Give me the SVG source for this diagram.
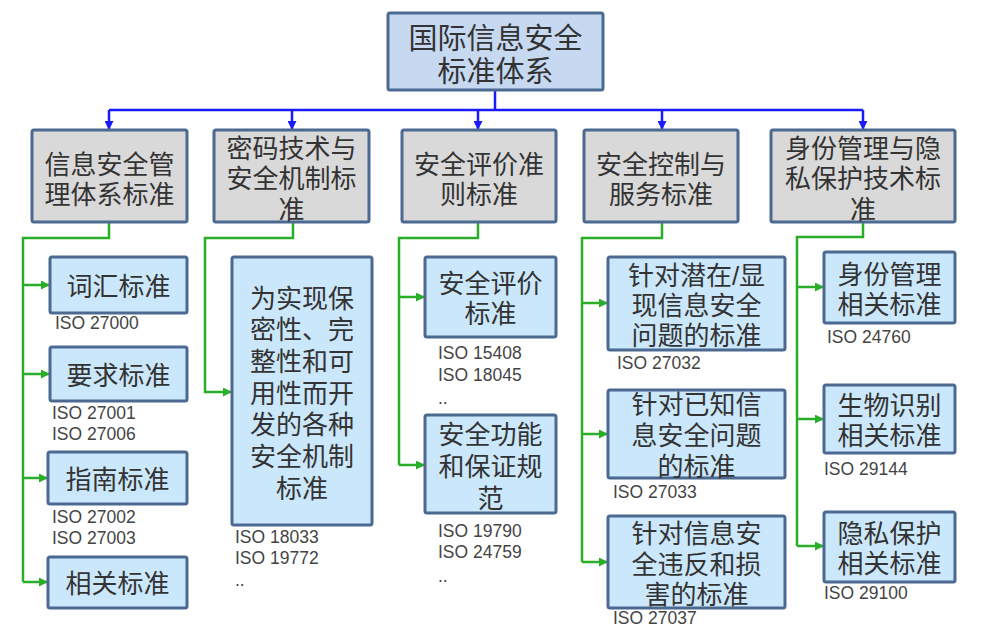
<svg xmlns="http://www.w3.org/2000/svg" width="987" height="639" viewBox="0 0 987 639">
<defs>
<style>
.box{stroke:#4b6991;stroke-width:3}
.root{fill:#c6d9f1}
.cat{fill:#d9d9d9}
.leaf{fill:#cbe7fb}
.t{font-family:"Liberation Sans","Noto Sans CJK SC",sans-serif;font-size:26px;fill:#333;text-anchor:middle;dominant-baseline:central;transform:translate(0px,2px)}
.iso{font-family:"Liberation Sans","Noto Sans",sans-serif;font-size:17.5px;fill:#444}
.blue{fill:none;stroke:#1a1aff;stroke-width:2.5}
.green{fill:none;stroke:#2aae2a;stroke-width:2.5}
</style>
<marker id="ab" markerUnits="userSpaceOnUse" viewBox="0 0 10 10" refX="10" refY="5" markerWidth="9" markerHeight="9" orient="auto"><path d="M0,0 L10,5 L0,10 z" fill="#1a1aff"/></marker>
<marker id="ag" markerUnits="userSpaceOnUse" viewBox="0 0 10 10" refX="10" refY="5" markerWidth="9" markerHeight="9" orient="auto"><path d="M0,0 L10,5 L0,10 z" fill="#2aae2a"/></marker>
</defs>

<g id="connectors">
<path class="blue" d="M495,90 V110 M109,110 H863"/>
<path class="blue" d="M109,110 V130" marker-end="url(#ab)"/>
<path class="blue" d="M292,110 V130" marker-end="url(#ab)"/>
<path class="blue" d="M478,110 V130" marker-end="url(#ab)"/>
<path class="blue" d="M662,110 V130" marker-end="url(#ab)"/>
<path class="blue" d="M863,110 V130" marker-end="url(#ab)"/>

<path class="green" d="M109,222 V238 H23 V582"/>
<path class="green" d="M23,285 H50" marker-end="url(#ag)"/>
<path class="green" d="M23,374 H50" marker-end="url(#ag)"/>
<path class="green" d="M23,478 H48" marker-end="url(#ag)"/>
<path class="green" d="M23,582 H48" marker-end="url(#ag)"/>

<path class="green" d="M293,222 V238 H205 V392 H232" marker-end="url(#ag)"/>

<path class="green" d="M478,222 V238 H399 V465"/>
<path class="green" d="M399,297 H425" marker-end="url(#ag)"/>
<path class="green" d="M399,465 H425" marker-end="url(#ag)"/>

<path class="green" d="M662,222 V238 H582 V562"/>
<path class="green" d="M582,303 H608" marker-end="url(#ag)"/>
<path class="green" d="M582,434 H608" marker-end="url(#ag)"/>
<path class="green" d="M582,562 H608" marker-end="url(#ag)"/>

<path class="green" d="M863,222 V237 H797 V546"/>
<path class="green" d="M797,287 H824" marker-end="url(#ag)"/>
<path class="green" d="M797,419 H824" marker-end="url(#ag)"/>
<path class="green" d="M797,546 H824" marker-end="url(#ag)"/>
</g>

<g id="root">
<rect class="box root" x="388" y="13" width="215" height="77" rx="2"/>
<text class="t" style="font-size:29px"><tspan x="495.5" y="37">国际信息安全</tspan><tspan x="495.5" y="70">标准体系</tspan></text>
</g>

<g id="cat1">
<rect class="box cat" x="32" y="130" width="155" height="92" rx="2"/>
<text class="t"><tspan x="109.5" y="163">信息安全管</tspan><tspan x="109.5" y="193">理体系标准</tspan></text>
</g>
<g id="cat2">
<rect class="box cat" x="214" y="130" width="155" height="92" rx="2"/>
<text class="t"><tspan x="291.5" y="147">密码技术与</tspan><tspan x="291.5" y="177">安全机制标</tspan><tspan x="291.5" y="208">准</tspan></text>
</g>
<g id="cat3">
<rect class="box cat" x="402" y="130" width="154" height="92" rx="2"/>
<text class="t"><tspan x="479" y="163">安全评价准</tspan><tspan x="479" y="193">则标准</tspan></text>
</g>
<g id="cat4">
<rect class="box cat" x="584" y="130" width="154" height="92" rx="2"/>
<text class="t"><tspan x="661" y="163">安全控制与</tspan><tspan x="661" y="193">服务标准</tspan></text>
</g>
<g id="cat5">
<rect class="box cat" x="771" y="130" width="184" height="92" rx="2"/>
<text class="t"><tspan x="863" y="147">身份管理与隐</tspan><tspan x="863" y="177">私保护技术标</tspan><tspan x="863" y="208">准</tspan></text>
</g>

<g id="leaf-vocab">
<rect class="box leaf" x="50" y="257" width="137" height="56" rx="2"/>
<text class="t" x="118.5" y="285">词汇标准</text>
<text class="iso" x="55" y="329">ISO 27000</text>
</g>
<g id="leaf-req">
<rect class="box leaf" x="50" y="347" width="137" height="54" rx="2"/>
<text class="t" x="118.5" y="374">要求标准</text>
<text class="iso"><tspan x="52" y="419">ISO 27001</tspan><tspan x="52" y="440">ISO 27006</tspan></text>
</g>
<g id="leaf-guide">
<rect class="box leaf" x="48" y="452" width="139" height="52" rx="2"/>
<text class="t" x="117.5" y="478">指南标准</text>
<text class="iso"><tspan x="52" y="523">ISO 27002</tspan><tspan x="52" y="544">ISO 27003</tspan></text>
</g>
<g id="leaf-related">
<rect class="box leaf" x="48" y="557" width="139" height="51" rx="2"/>
<text class="t" x="117.5" y="582">相关标准</text>
</g>

<g id="leaf-crypto">
<rect class="box leaf" x="232" y="257" width="140" height="268" rx="2"/>
<text class="t"><tspan x="302" y="297">为实现保</tspan><tspan x="302" y="328">密性、完</tspan><tspan x="302" y="360">整性和可</tspan><tspan x="302" y="392">用性而开</tspan><tspan x="302" y="423">发的各种</tspan><tspan x="302" y="455">安全机制</tspan><tspan x="302" y="487">标准</tspan></text>
<text class="iso"><tspan x="235" y="543">ISO 18033</tspan><tspan x="235" y="564">ISO 19772</tspan><tspan x="235" y="586">..</tspan></text>
</g>

<g id="leaf-eval">
<rect class="box leaf" x="425" y="257" width="131" height="80" rx="2"/>
<text class="t"><tspan x="490.5" y="282">安全评价</tspan><tspan x="490.5" y="312">标准</tspan></text>
<text class="iso"><tspan x="438" y="359">ISO 15408</tspan><tspan x="438" y="381">ISO 18045</tspan><tspan x="438" y="404">..</tspan></text>
</g>
<g id="leaf-func">
<rect class="box leaf" x="425" y="415" width="131" height="98" rx="2"/>
<text class="t"><tspan x="490.5" y="433">安全功能</tspan><tspan x="490.5" y="465">和保证规</tspan><tspan x="490.5" y="497">范</tspan></text>
<text class="iso"><tspan x="438" y="537">ISO 19790</tspan><tspan x="438" y="558">ISO 24759</tspan><tspan x="438" y="582">..</tspan></text>
</g>

<g id="leaf-potential">
<rect class="box leaf" x="608" y="257" width="177" height="93" rx="2"/>
<text class="t"><tspan x="696.5" y="274">针对潜在/显</tspan><tspan x="696.5" y="304">现信息安全</tspan><tspan x="696.5" y="334">问题的标准</tspan></text>
<text class="iso" x="617" y="369">ISO 27032</text>
</g>
<g id="leaf-known">
<rect class="box leaf" x="608" y="390" width="177" height="88" rx="2"/>
<text class="t"><tspan x="696.5" y="403">针对已知信</tspan><tspan x="696.5" y="434">息安全问题</tspan><tspan x="696.5" y="465">的标准</tspan></text>
<text class="iso" x="613" y="498">ISO 27033</text>
</g>
<g id="leaf-violation">
<rect class="box leaf" x="608" y="516" width="177" height="92" rx="2"/>
<text class="t"><tspan x="696.5" y="532">针对信息安</tspan><tspan x="696.5" y="563">全违反和损</tspan><tspan x="696.5" y="593">害的标准</tspan></text>
<text class="iso" x="613" y="624">ISO 27037</text>
</g>

<g id="leaf-identity">
<rect class="box leaf" x="824" y="252" width="131" height="71" rx="2"/>
<text class="t"><tspan x="889.5" y="273">身份管理</tspan><tspan x="889.5" y="303">相关标准</tspan></text>
<text class="iso" x="827" y="343">ISO 24760</text>
</g>
<g id="leaf-bio">
<rect class="box leaf" x="824" y="385" width="131" height="68" rx="2"/>
<text class="t"><tspan x="889.5" y="404">生物识别</tspan><tspan x="889.5" y="434">相关标准</tspan></text>
<text class="iso" x="824" y="475">ISO 29144</text>
</g>
<g id="leaf-privacy">
<rect class="box leaf" x="824" y="512" width="131" height="70" rx="2"/>
<text class="t"><tspan x="889.5" y="532">隐私保护</tspan><tspan x="889.5" y="562">相关标准</tspan></text>
<text class="iso" x="824" y="599">ISO 29100</text>
</g>
</svg>
